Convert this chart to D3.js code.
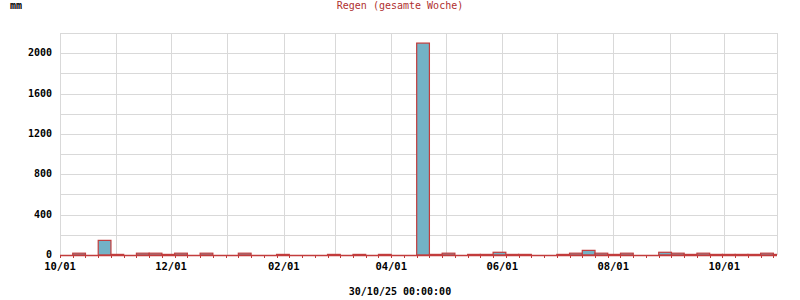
<!DOCTYPE html>
<html>
<head>
<meta charset="utf-8">
<script src="https://cdn.jsdelivr.net/npm/d3@7"></script>
<style>
  body { margin: 0; background: #fff; }
  text { font-family: "DejaVu Sans Mono", monospace; }
</style>
</head>
<body>
<div id="chart"></div>
<script>
// weekly rain totals, first week starts 2024-10-01
const startDate = "2024-10-01";
const endDate = "2025-10-30";
const rainValues = [
  0, 18, 0, 145, 6, 0, 18, 18, 6, 18,
  0, 18, 0, 0, 18, 0, 0, 6, 0, 0,
  0, 6, 0, 6, 0, 6, 0, 0, 2100, 6,
  18, 0, 6, 6, 27, 6, 6, 0, 0, 6,
  18, 46, 18, 6, 18, 0, 0, 27, 18, 6,
  18, 6, 6, 6, 6, 18, 6
];
const yTicks = [0, 400, 800, 1200, 1600, 2000];
const titleText = "Regen (gesamte Woche)";
const unitText = "mm";
const stampText = "30/10/25 00:00:00";

const width = 800, height = 300;
const margin = { left: 60, right: 23, top: 33, bottom: 45 };

const parse = d3.utcParse("%Y-%m-%d");
const t0 = parse(startDate), t1 = parse(endDate);
const weeks = rainValues.map((v, i) => ({
  start: d3.utcDay.offset(t0, 7 * i),
  end: d3.utcDay.offset(t0, 7 * i + 7),
  value: v
}));

const svg = d3.select("#chart").append("svg")
  .attr("width", width)
  .attr("height", height);

const x = d3.scaleUtc()
  .domain([t0, t1])
  .range([margin.left, width - margin.right]);

const y = d3.scaleLinear()
  .domain([0, 2200])
  .range([height - margin.bottom, margin.top]);

const x0 = margin.left, x1 = width - margin.right;
const yBase = y(0), yTop = margin.top;

svg.append("defs").append("clipPath").attr("id", "plot")
  .append("rect")
  .attr("x", x0).attr("y", 0)
  .attr("width", x1 - x0).attr("height", yBase + 1);

// horizontal grid every 200
svg.append("g")
  .selectAll("line")
  .data(d3.range(200, 2201, 200))
  .enter().append("line")
  .attr("x1", x0).attr("x2", x1)
  .attr("y1", d => Math.round(y(d)) + 0.5)
  .attr("y2", d => Math.round(y(d)) + 0.5)
  .attr("stroke", "#d9d9d9");

// monthly vertical grid
const months = d3.utcMonth.range(t0, t1);
svg.append("g")
  .selectAll("line")
  .data(months.concat([t1]))
  .enter().append("line")
  .attr("x1", d => Math.round(x(d)) + 0.5)
  .attr("x2", d => Math.round(x(d)) + 0.5)
  .attr("y1", yTop).attr("y2", yBase)
  .attr("stroke", "#d9d9d9");

// bars
svg.append("g")
  .attr("clip-path", "url(#plot)")
  .selectAll("rect")
  .data(weeks.filter(d => d.value > 0))
  .enter().append("rect")
  .attr("x", d => x(d.start))
  .attr("width", d => x(d.end) - x(d.start))
  .attr("y", d => y(d.value))
  .attr("height", d => yBase - y(d.value))
  .attr("fill", "#73b2c6")
  .attr("stroke", "#c23c3c")
  .attr("stroke-width", 1.2);

// baseline and weekly ticks
svg.append("line")
  .attr("x1", x0).attr("x2", x1)
  .attr("y1", yBase + 0.5).attr("y2", yBase + 0.5)
  .attr("stroke", "#c23c3c")
  .attr("stroke-width", 1.5);

svg.append("g")
  .selectAll("line")
  .data(weeks.map(d => d.start).filter(d => d < t1))
  .enter().append("line")
  .attr("x1", d => Math.round(x(d)) + 0.5)
  .attr("x2", d => Math.round(x(d)) + 0.5)
  .attr("y1", yBase).attr("y2", yBase + 3)
  .attr("stroke", "#c23c3c");

// y labels
svg.append("g")
  .selectAll("text")
  .data(yTicks)
  .enter().append("text")
  .attr("x", 52)
  .attr("y", d => y(d) + 3)
  .attr("text-anchor", "end")
  .attr("font-size", 10)
  .attr("font-weight", "bold")
  .text(d => d);

// x labels every two months
const fmt = d3.utcFormat("%m/%d");
svg.append("g")
  .selectAll("text")
  .data(months.filter((d, i) => i % 2 === 0))
  .enter().append("text")
  .attr("x", d => x(d))
  .attr("y", 270)
  .attr("text-anchor", "middle")
  .attr("font-size", 10.5)
  .attr("font-weight", "bold")
  .text(d => fmt(d));

svg.append("text")
  .attr("x", 10).attr("y", 9)
  .attr("font-size", 10)
  .attr("font-weight", "bold")
  .text(unitText);

svg.append("text")
  .attr("x", 400).attr("y", 9)
  .attr("text-anchor", "middle")
  .attr("font-size", 10)
  .attr("fill", "#b03030")
  .text(titleText);

svg.append("text")
  .attr("x", 400).attr("y", 295)
  .attr("text-anchor", "middle")
  .attr("font-size", 10)
  .attr("font-weight", "bold")
  .text(stampText);
</script>
</body>
</html>
